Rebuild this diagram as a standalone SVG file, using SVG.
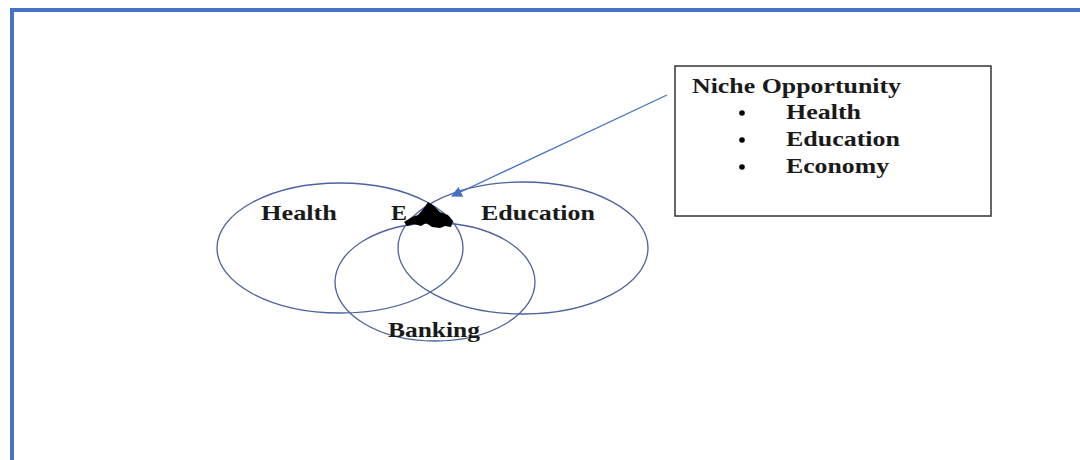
<svg xmlns="http://www.w3.org/2000/svg" width="1080" height="460" viewBox="0 0 1080 460">
<style>
.lbl{font-family:"Liberation Serif","Times New Roman",serif;font-weight:bold;font-size:21px;fill:#1a1a1a}
.ell{fill:none;stroke:#4a62a0;stroke-width:1.3}
</style>
<defs>
<marker id="ah" viewBox="0 0 10 10" refX="9" refY="5" markerWidth="11" markerHeight="11" markerUnits="userSpaceOnUse" orient="auto">
<path d="M0,0 L10,5 L0,10 z" fill="#4472C4"/>
</marker>
</defs>
<rect x="0" y="0" width="1080" height="460" fill="#fff"/>
<path d="M12,462 L12,10 L1082,10" fill="none" stroke="#4472C4" stroke-width="4"/>
<g id="health"><ellipse class="ell" cx="340" cy="248" rx="123" ry="65"/><text class="lbl" x="261" y="220" textLength="76" lengthAdjust="spacingAndGlyphs">Health</text></g>
<g id="education"><ellipse class="ell" cx="523" cy="248" rx="125" ry="66"/><text class="lbl" x="481" y="220" textLength="114" lengthAdjust="spacingAndGlyphs">Education</text></g>
<g id="banking"><ellipse class="ell" cx="435" cy="282" rx="100" ry="59"/><text class="lbl" x="388" y="337" textLength="92" lengthAdjust="spacingAndGlyphs">Banking</text></g>
<g id="e-mark"><text class="lbl" x="391" y="220" textLength="16" lengthAdjust="spacingAndGlyphs">E</text>
<path d="M404,222 L412,217 L418,215 L424,208 L428,202 L434,206 L440,212 L448,215 L453,221 L451,227 L445,226 L440,228 L432,227 L426,223 L421,226 L414,224 L407,226 Z" fill="#000"/></g>
<g id="niche"><rect x="675" y="66" width="316" height="150" fill="#fff" stroke="#333" stroke-width="1.5"/>
<text class="lbl" x="692" y="93" textLength="209" lengthAdjust="spacingAndGlyphs">Niche Opportunity</text>
<circle cx="742" cy="113" r="2.8" fill="#000"/><text class="lbl" x="786" y="119" textLength="75" lengthAdjust="spacingAndGlyphs">Health</text>
<circle cx="742" cy="140" r="2.8" fill="#000"/><text class="lbl" x="786" y="146" textLength="114" lengthAdjust="spacingAndGlyphs">Education</text>
<circle cx="742" cy="167" r="2.8" fill="#000"/><text class="lbl" x="786" y="173" textLength="103" lengthAdjust="spacingAndGlyphs">Economy</text></g>
<g id="connectors"><line x1="667" y1="95" x2="452" y2="196" stroke="#4472C4" stroke-width="1.3" marker-end="url(#ah)"/></g>
</svg>
